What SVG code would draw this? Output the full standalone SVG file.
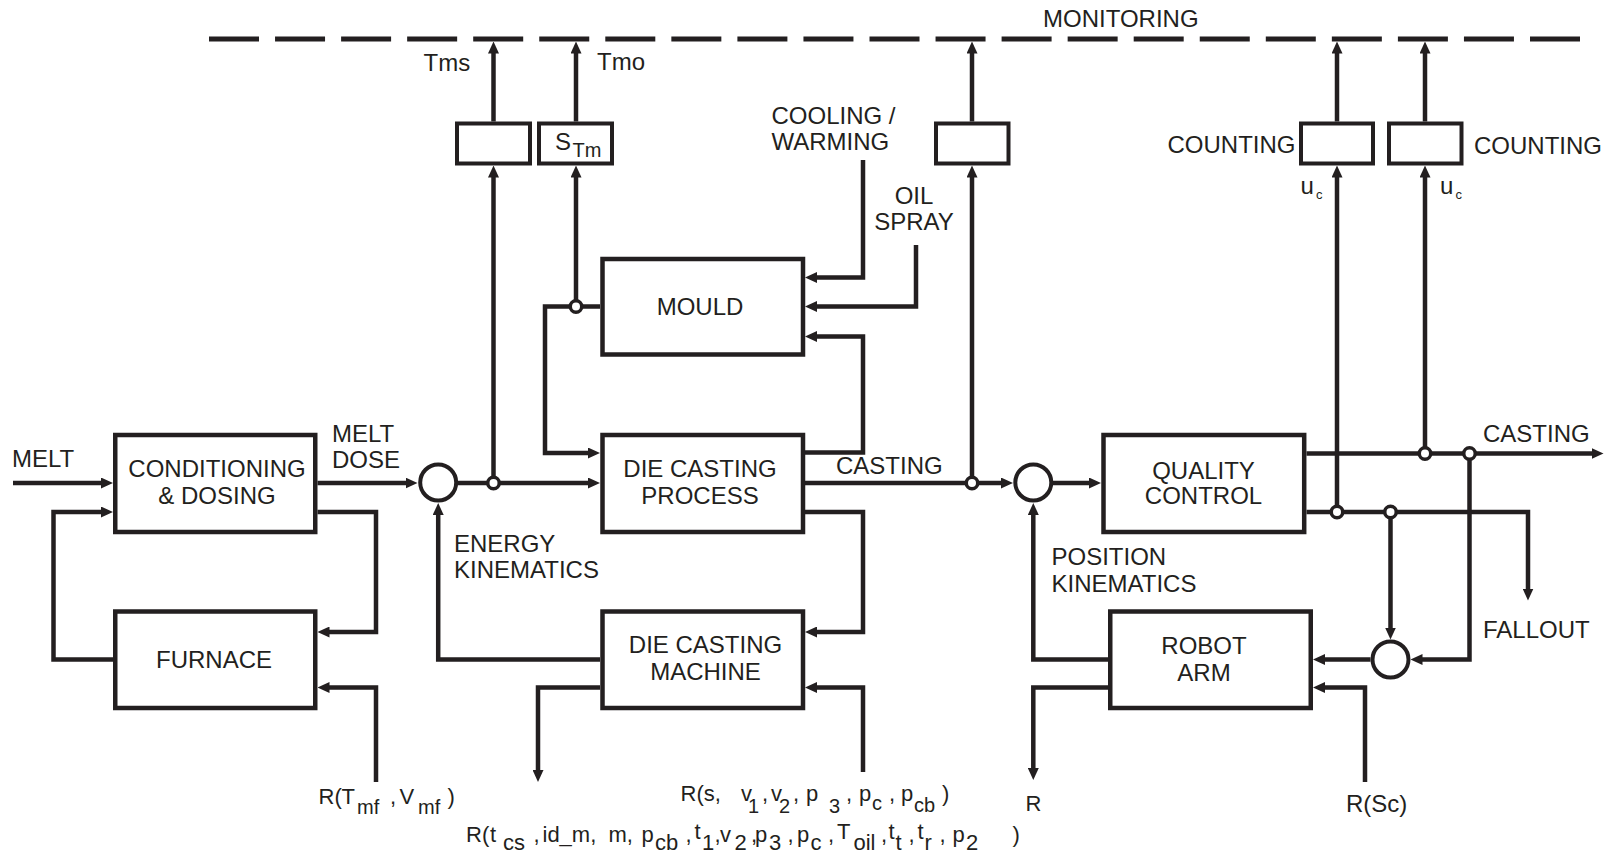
<svg xmlns="http://www.w3.org/2000/svg" width="1618" height="858" viewBox="0 0 1618 858">
<defs>
<style>
.ln{fill:none;stroke:#231f20;stroke-width:4.5;stroke-linejoin:miter;stroke-linecap:butt}
.ar{marker-end:url(#ah)}
.bx{fill:#fff;stroke:#231f20;stroke-width:4.5}
.sb{fill:#fff;stroke:#231f20;stroke-width:4}
.sum{fill:#fff;stroke:#231f20;stroke-width:4}
.jn{fill:#fff;stroke:#231f20;stroke-width:3.5}
.mon{fill:none;stroke:#231f20;stroke-width:5;stroke-dasharray:50 16.05}
text{font-family:"Liberation Sans",Arial,Helvetica,sans-serif;font-size:24px;fill:#231f20}
.tm{text-anchor:middle}
.f{font-size:22px}
.s{font-size:20px}
.s2{font-size:22px}
.uc{font-size:13px}
</style>
<marker id="ah" viewBox="0 0 12 11" refX="3" refY="5.5" markerWidth="12" markerHeight="11" markerUnits="userSpaceOnUse" orient="auto">
<path d="M0,0 L12,5.5 L0,11 z" fill="#231f20"/>
</marker>
</defs>
<rect width="1618" height="858" fill="#fff"/>

<g id="monitoring">
<line class="mon" x1="209" y1="39" x2="1580" y2="39"/>
<text x="1043" y="26.5">MONITORING</text>
</g>

<g id="connectors">
<path class="ln ar" d="M13,483 H104"/>
<path class="ln ar" d="M113,659.5 H53.5 V512 H104"/>
<path class="ln ar" d="M317.5,512 H376 V632 H326.5"/>
<path class="ln ar" d="M376,782 V687.5 H326.5"/>
<path class="ln ar" d="M317.5,483 H408.5"/>
<path class="ln ar" d="M458,483 H591"/>
<path class="ln ar" d="M493.5,477 V174.5"/>
<path class="ln ar" d="M493.5,121.5 V50.5"/>
<path class="ln ar" d="M600,659.5 H438.2 V512"/>
<path class="ln ar" d="M600,687.5 H538 V773"/>
<path class="ln ar" d="M600,306.5 H545 V453 H591"/>
<path class="ln ar" d="M576,300 V174.5"/>
<path class="ln ar" d="M576,121.5 V50.5"/>
<path class="ln ar" d="M863,160 V277.5 H814"/>
<path class="ln ar" d="M916,245 V306.5 H814"/>
<path class="ln ar" d="M805,452.5 H863 V336.5 H814"/>
<path class="ln ar" d="M805,512 H863 V632 H814"/>
<path class="ln ar" d="M863,772 V687.5 H814"/>
<path class="ln ar" d="M805,483 H1004"/>
<path class="ln ar" d="M972,477 V174.5"/>
<path class="ln ar" d="M972,121.5 V50.5"/>
<path class="ln ar" d="M1053,483 H1092"/>
<path class="ln ar" d="M1108,659.5 H1033.3 V512"/>
<path class="ln ar" d="M1108,687.5 H1033.3 V771"/>
<path class="ln ar" d="M1306.5,453.5 H1594.5"/>
<path class="ln ar" d="M1306.5,512 H1528 V591.5"/>
<path class="ln ar" d="M1337,506 V174.5"/>
<path class="ln ar" d="M1337,121.5 V50.5"/>
<path class="ln ar" d="M1425,447.5 V174.5"/>
<path class="ln ar" d="M1425,121.5 V50.5"/>
<path class="ln ar" d="M1390.5,518 V630.5"/>
<path class="ln ar" d="M1469.5,459 V659.5 H1419.5"/>
<path class="ln ar" d="M1370.5,659.5 H1322"/>
<path class="ln ar" d="M1365,782 V687.5 H1322"/>
<circle class="jn" cx="493.5" cy="483" r="5.75"/>
<circle class="jn" cx="576" cy="306.5" r="5.75"/>
<circle class="jn" cx="972" cy="483" r="5.75"/>
<circle class="jn" cx="1425" cy="453.5" r="5.75"/>
<circle class="jn" cx="1469.5" cy="453.5" r="5.75"/>
<circle class="jn" cx="1337" cy="512" r="5.75"/>
<circle class="jn" cx="1390.5" cy="512" r="5.75"/>
</g>

<g id="labels">
<text x="12" y="467">MELT</text>
<text x="332" y="442">MELT</text>
<text x="332" y="468">DOSE</text>
<text x="423.5" y="70.5">Tms</text>
<text x="597" y="70">Tmo</text>
<text x="771.5" y="123.5">COOLING /</text>
<text x="771.5" y="150">WARMING</text>
<text class="tm" x="914" y="203.5">OIL</text>
<text class="tm" x="914" y="230">SPRAY</text>
<text x="836" y="474">CASTING</text>
<text x="454" y="552">ENERGY</text>
<text x="454" y="578">KINEMATICS</text>
<text x="1051.5" y="565">POSITION</text>
<text x="1051.5" y="591.5">KINEMATICS</text>
<text x="1483" y="442">CASTING</text>
<text x="1483" y="637.5">FALLOUT</text>
<text x="1167.5" y="153">COUNTING</text>
<text x="1474" y="154">COUNTING</text>
<text x="1300.5" y="193.5">u<tspan class="uc" x="1316" y="199">c</tspan></text>
<text x="1440" y="193.5">u<tspan class="uc" x="1455.5" y="199">c</tspan></text>
<text class="f" x="318.5" y="804">R(<tspan x="341.5">T</tspan><tspan class="s" x="357" y="813.5">mf</tspan><tspan x="390" y="804">, </tspan><tspan x="399.5" y="804">V</tspan><tspan class="s" x="418" y="813.5">mf</tspan><tspan x="447.5" y="804">)</tspan></text>
<text class="f" x="680.5" y="801">R(s, <tspan x="741">v</tspan><tspan class="s" x="748" y="813">1</tspan><tspan x="762" y="801">, </tspan><tspan x="771" y="801">v</tspan><tspan class="s" x="779" y="813">2</tspan><tspan x="793" y="801">, </tspan><tspan x="806" y="801">p </tspan><tspan class="s" x="829" y="813">3</tspan><tspan x="846" y="801">, </tspan><tspan x="859" y="801">p</tspan><tspan class="s" x="872" y="810">c</tspan><tspan x="889" y="801">, </tspan><tspan x="901" y="801">p</tspan><tspan class="s" x="914" y="812">cb</tspan><tspan x="942" y="801">)</tspan></text>
<text class="f" x="466" y="842">R(<tspan x="490">t</tspan><tspan class="s2" x="503" y="850">cs</tspan><tspan x="533.5" y="842">, </tspan><tspan x="542.5" y="842">id_m, </tspan><tspan x="608.5" y="842">m, </tspan><tspan x="641.5" y="842">p</tspan><tspan class="s2" x="655" y="850">cb</tspan><tspan x="685.5" y="842">, </tspan><tspan x="694.5" y="839">t</tspan><tspan class="s2" x="702" y="850">1</tspan><tspan x="714.5" y="842">,</tspan><tspan x="720" y="842">v</tspan><tspan class="s2" x="734.5" y="850">2</tspan><tspan x="751" y="842">,</tspan><tspan x="755" y="842">p</tspan><tspan class="s2" x="769" y="850">3</tspan><tspan x="787.5" y="842">, </tspan><tspan x="797" y="842">p</tspan><tspan class="s2" x="810.5" y="850">c</tspan><tspan x="828" y="842">, </tspan><tspan x="837" y="839">T </tspan><tspan class="s2" x="853.5" y="850">oil</tspan><tspan x="881" y="842">, </tspan><tspan x="888.5" y="839">t </tspan><tspan class="s2" x="895.5" y="850">t</tspan><tspan x="908.5" y="842">, </tspan><tspan x="917.5" y="839">t </tspan><tspan class="s2" x="924.5" y="850">r</tspan><tspan x="939.5" y="842">, </tspan><tspan x="952.5" y="842">p</tspan><tspan class="s2" x="966" y="850">2</tspan><tspan x="1012.5" y="842">)</tspan></text>
<text class="f" x="1025.5" y="810.5">R</text>
<text x="1346" y="811.5">R(Sc)</text>
</g>

<g id="node-conditioning">
<rect class="bx" x="115.25" y="435" width="200" height="97"/>
<text class="tm" x="217" y="477">CONDITIONING</text>
<text class="tm" x="217" y="503.5">&amp; DOSING</text>
</g>
<g id="node-furnace">
<rect class="bx" x="115.25" y="611.5" width="200" height="96.5"/>
<text class="tm" x="214" y="668">FURNACE</text>
</g>
<g id="node-mould">
<rect class="bx" x="602.5" y="259" width="200.5" height="95.5"/>
<text class="tm" x="700" y="315">MOULD</text>
</g>
<g id="node-process">
<rect class="bx" x="602.5" y="435" width="200.5" height="97"/>
<text class="tm" x="700" y="477">DIE CASTING</text>
<text class="tm" x="700" y="503.5">PROCESS</text>
</g>
<g id="node-machine">
<rect class="bx" x="602.5" y="611.5" width="200.5" height="96.5"/>
<text class="tm" x="705.5" y="653">DIE CASTING</text>
<text class="tm" x="705.5" y="680">MACHINE</text>
</g>
<g id="node-quality">
<rect class="bx" x="1103.5" y="435" width="200.7" height="97"/>
<text class="tm" x="1203.5" y="478.5">QUALITY</text>
<text class="tm" x="1203.5" y="504">CONTROL</text>
</g>
<g id="node-robot">
<rect class="bx" x="1110.25" y="611.5" width="200.5" height="96.5"/>
<text class="tm" x="1204" y="653.5">ROBOT</text>
<text class="tm" x="1204" y="680.5">ARM</text>
</g>
<g id="node-sum1"><circle class="sum" cx="438.2" cy="482.5" r="18"/></g>
<g id="node-sum2"><circle class="sum" cx="1033.3" cy="482.5" r="18"/></g>
<g id="node-sum3"><circle class="sum" cx="1390.5" cy="659.5" r="18"/></g>
<g id="node-sensor-tms"><rect class="sb" x="457" y="123.5" width="73" height="40"/></g>
<g id="node-sensor-stm">
<rect class="sb" x="539" y="123.5" width="73" height="40"/>
<text x="555" y="150">S<tspan class="s" x="572.5" y="156.5">Tm</tspan></text>
</g>
<g id="node-sensor-casting"><rect class="sb" x="936" y="123.5" width="72.5" height="40"/></g>
<g id="node-counting1"><rect class="sb" x="1301" y="123.5" width="72" height="40"/></g>
<g id="node-counting2"><rect class="sb" x="1389" y="123.5" width="72.5" height="40"/></g>
</svg>
